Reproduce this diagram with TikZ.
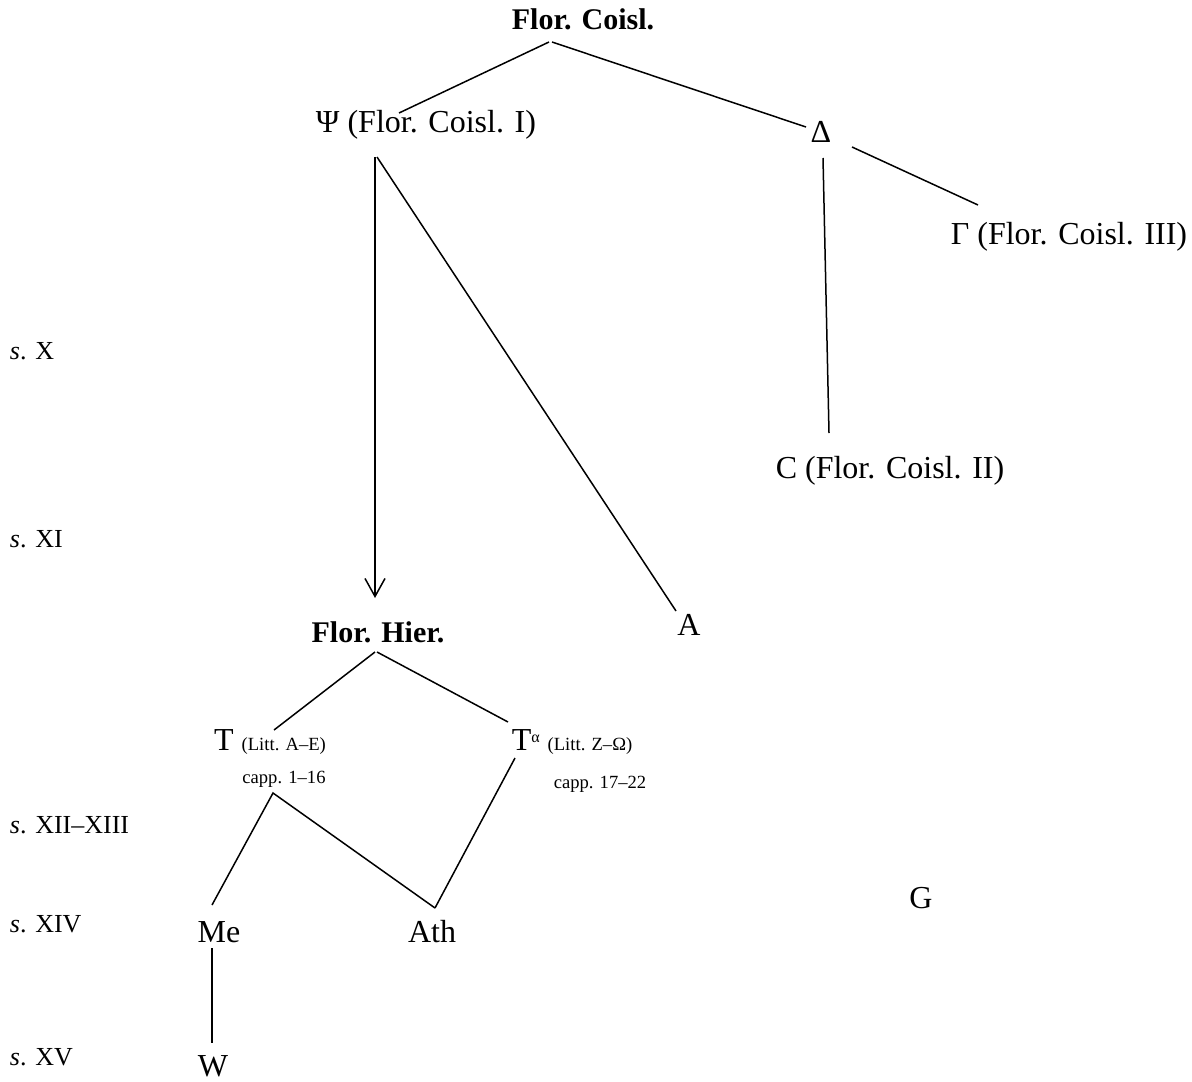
\documentclass[tikz,border=0pt]{standalone}
\usepackage{fontspec}
\setmainfont{Liberation Serif}
\usetikzlibrary{calc,arrows.meta}
\begin{document}
\begin{tikzpicture}[x=0.5pt,y=-0.5pt,
  every node/.style={inner sep=0pt,outer sep=0pt,anchor=base},
  lbl/.style={font=\fontsize{16pt}{19pt}\selectfont},
  bld/.style={font=\fontsize{15pt}{18pt}\selectfont\bfseries},
  smalltxt/.style={font=\fontsize{9.3pt}{11pt}\selectfont},
  sec/.style={font=\fontsize{13pt}{15pt}\selectfont,anchor=base west},
  conn/.style={line width=0.75pt},
  arr/.style={line width=0.75pt,-{Straight Barb[length=9pt,width=10pt,line width=0.75pt]}}]
\useasboundingbox (0,0) rectangle (1192,1081);
% nodes
\node[bld] (fc) at (583,30) {Flor. Coisl.};
\node[lbl] (psi) at (426,133) {Ψ (Flor. Coisl. I)};
\node[lbl] (delta) at (821,142) {Δ};
\node[lbl] (gamma) at (1069,244) {Γ (Flor. Coisl. III)};
\node[lbl] (c) at (890,478) {C (Flor. Coisl. II)};
\node[lbl] (a) at (689,635) {A};
\node[bld] (fh) at (378,642) {Flor. Hier.};
\node[lbl] (t) at (270,750) {T {\fontsize{9.3pt}{11pt}\selectfont (Litt. A–E)}};
\node[lbl] (ta) at (572,750) {T\raisebox{4pt}{\fontsize{8pt}{9pt}\selectfont α} {\fontsize{9.3pt}{11pt}\selectfont (Litt. Z–Ω)}};
\node[smalltxt] (capp1) at (284,783) {capp. 1–16};
\node[smalltxt] (capp2) at (600,788) {capp. 17–22};
\node[lbl] (me) at (219,942) {Me};
\node[lbl] (ath) at (432,942) {Ath};
\node[lbl] (g) at (921,908) {G};
\node[lbl] (w) at (213,1076) {W};
\node[sec] (s10) at (10,359) {\textit{s}. X};
\node[sec] (s11) at (10,547) {\textit{s}. XI};
\node[sec] (s12) at (10,833) {\textit{s}. XII–XIII};
\node[sec] (s14) at (10,932) {\textit{s}. XIV};
\node[sec] (s15) at (10,1065) {\textit{s}. XV};
% connectors
\draw[conn] ($(fc.base)+(-34,12)$) -- ($(psi.base)+(-27,-20)$);
\draw[conn] ($(fc.base)+(-31,12)$) -- ($(delta.base)+(-15,-15)$);
\draw[conn] ($(delta.base)+(31,5)$) -- ($(gamma.base)+(-91,-39)$);
\draw[conn] ($(delta.base)+(2,16)$) -- ($(c.base)+(-61,-45)$);
\draw[arr] ($(psi.base)+(-51,24)$) -- ($(fh.base)+(-3,-44)$);
\draw[conn] ($(psi.base)+(-49,24)$) -- ($(a.base)+(-13,-24)$);
\draw[conn] ($(fh.base)+(-3,10)$) -- ($(t.base)+(4,-20)$);
\draw[conn] ($(fh.base)+(-1,10)$) -- ($(ta.base)+(-64,-28)$);
\draw[conn] ($(me.base)+(-7,-37)$) -- ($(capp1.base)+(-11,10)$) -- ($(ath.base)+(3,-34)$);
\draw[conn] ($(ta.base)+(-57,8)$) -- ($(ath.base)+(3,-34)$);
\draw[conn] ($(me.base)+(-7,6)$) -- ($(w.base)+(-1,-33)$);
\end{tikzpicture}
\end{document}
